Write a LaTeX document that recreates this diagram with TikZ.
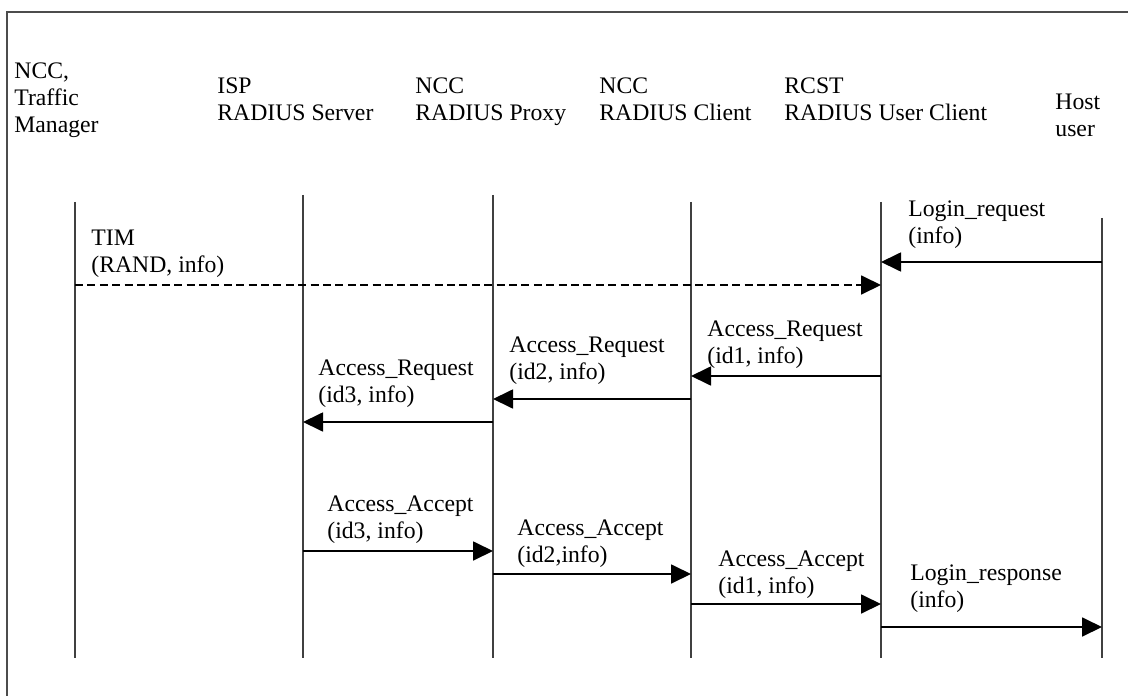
\documentclass[tikz,border=0pt]{standalone}
\usepackage{fontspec}
\setmainfont{Liberation Serif}
\usetikzlibrary{arrows.meta}
\tikzset{
	lbl/.style={anchor=base west,align=left,inner sep=0pt,font=\fontsize{11.85}{13.5}\selectfont},
	life/.style={line width=0.55pt,black!75},
	msg/.style={line width=0.9pt,-{Triangle[length=10pt,width=9.5pt]}},
	timmsg/.style={msg,dash pattern=on 4pt off 2.2pt},
}
\begin{document}
\begin{tikzpicture}[x=0.5pt,y=-0.5pt]
	\useasboundingbox (0,0) rectangle (1128,695);
	\clip (0,0) rectangle (1128,695);
	\draw[line width=0.65pt,black!70] (7,12) rectangle (1140,710);
	\node[lbl] (hdtm) at (14,133) {NCC,\\Traffic\\Manager};
	\node[lbl] (hdisp) at (217,121) {ISP\\RADIUS Server};
	\node[lbl] (hdproxy) at (415,121) {NCC\\RADIUS Proxy};
	\node[lbl] (hdclient) at (599,121) {NCC\\RADIUS Client};
	\node[lbl] (hdrcst) at (784,121) {RCST\\RADIUS User Client};
	\node[lbl] (hdhost) at (1055,137) {Host\\user};
	\coordinate (tm) at (75,202);
	\coordinate (isp) at (303,195);
	\coordinate (proxy) at (493,195);
	\coordinate (client) at (691,202);
	\coordinate (rcst) at (881,202);
	\coordinate (host) at (1102,218);
	\foreach \l in {tm,isp,proxy,client,rcst,host}
		\draw[life] (\l) -- (\l |- 0,658);
	\node[lbl] (mlogin) at (908,243) {Login\_request\\(info)};
	\draw[msg] (host |- 0,262) -- (rcst |- 0,262);
	\node[lbl] (mtim) at (91,272) {TIM\\(RAND, info)};
	\draw[timmsg] (tm |- 0,285) -- (rcst |- 0,285);
	\node[lbl] (mreq1) at (707,363) {Access\_Request\\(id1, info)};
	\draw[msg] (rcst |- 0,376) -- (client |- 0,376);
	\node[lbl] (mreq2) at (509,379) {Access\_Request\\(id2, info)};
	\draw[msg] (client |- 0,399) -- (proxy |- 0,399);
	\node[lbl] (mreq3) at (318,402) {Access\_Request\\(id3, info)};
	\draw[msg] (proxy |- 0,422) -- (isp |- 0,422);
	\node[lbl] (macc3) at (327,538) {Access\_Accept\\(id3, info)};
	\draw[msg] (isp |- 0,551) -- (proxy |- 0,551);
	\node[lbl] (macc2) at (517,562) {Access\_Accept\\(id2,info)};
	\draw[msg] (proxy |- 0,574) -- (client |- 0,574);
	\node[lbl] (macc1) at (718,593) {Access\_Accept\\(id1, info)};
	\draw[msg] (client |- 0,604) -- (rcst |- 0,604);
	\node[lbl] (mresp) at (910,607) {Login\_response\\(info)};
	\draw[msg] (rcst |- 0,627) -- (host |- 0,627);
\end{tikzpicture}
\end{document}
